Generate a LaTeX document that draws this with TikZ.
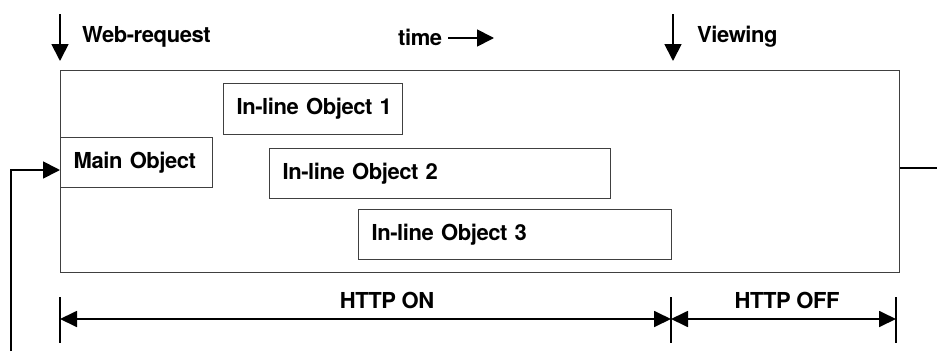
\documentclass[tikz,border=0pt]{standalone}
\usepackage{fontspec}
\setmainfont[LetterSpace=-2]{TeX Gyre Heros}
\usetikzlibrary{arrows.meta}
\begin{document}
\begin{tikzpicture}[x=1pt,y=-1pt,
  lbl/.style={font=\fontsize{22}{26}\selectfont\bfseries, inner sep=0pt},
  objbox/.style={draw=black!75, line width=1.3pt, anchor=north west, inner xsep=13pt, inner ysep=0pt,
     align=left, font=\fontsize{22}{26}\selectfont\bfseries},
  conn/.style={line width=1.8pt, black},
  tipA/.style={-{Triangle[length=17pt,width=17pt]}},
  tipB/.style={{Triangle[length=17pt,width=16pt]}-{Triangle[length=17pt,width=16pt]}},
  tick/.style={line width=1.8pt, black}]
\useasboundingbox (0,0) rectangle (937,351);
% frame
\node[draw=black!75, line width=1.3pt, anchor=north west, minimum width=839pt, minimum height=202pt, inner sep=0pt] (frame) at (60,70) {};
% object boxes
\node[objbox, text width=126pt, minimum height=50pt] (main) at (60,137) {\mbox{Main Object}};
\node[objbox, text width=153pt, minimum height=51pt] (obj1) at (223,83) {\mbox{In-line Object 1}};
\node[objbox, text width=315pt, minimum height=50pt] (obj2) at (269,148) {\mbox{In-line Object 2}};
\node[objbox, text width=287pt, minimum height=50pt] (obj3) at (358,209) {\mbox{In-line Object 3}};
% top labels
\node[lbl, anchor=west] (wr) at (82,37) {Web-request};
\node[lbl, anchor=west] (time) at (398,37) {time};
\node[lbl, anchor=west] (view) at (697,37) {Viewing};
\coordinate (wrA) at (60,14);
\coordinate (wrB) at (60,61);
\coordinate (vwA) at (673,14);
\coordinate (vwB) at (673,61);
\coordinate (tmA) at (448,38);
\coordinate (tmB) at (494,38);
\draw[conn, tipA] (wrA) -- (wrB);
\draw[conn, tipA] (vwA) -- (vwB);
\draw[conn, tipA] (tmA) -- (tmB);
% main object arrow
\coordinate (src) at (11,351);
\coordinate (hit) at (60,170);
\draw[conn, tipA] (src) |- (main.west |- hit);
% right line
\coordinate (rEnd) at (937,168);
\draw[conn] (frame.east |- rEnd) -- (rEnd);
% HTTP bar
\coordinate (t1) at (60,319);
\coordinate (t2) at (671,319);
\coordinate (t3) at (896,319);
\draw[tick] (60,297) -- (60,343);
\draw[tick] (671,297) -- (671,343);
\draw[tick] (896,297) -- (896,343);
\draw[conn, tipB] (t1) -- (t2);
\draw[conn, tipB] (t2) -- (t3);
\node[lbl] (on) at (387,300) {HTTP ON};
\node[lbl] (off) at (787,300) {HTTP OFF};
\end{tikzpicture}
\end{document}
